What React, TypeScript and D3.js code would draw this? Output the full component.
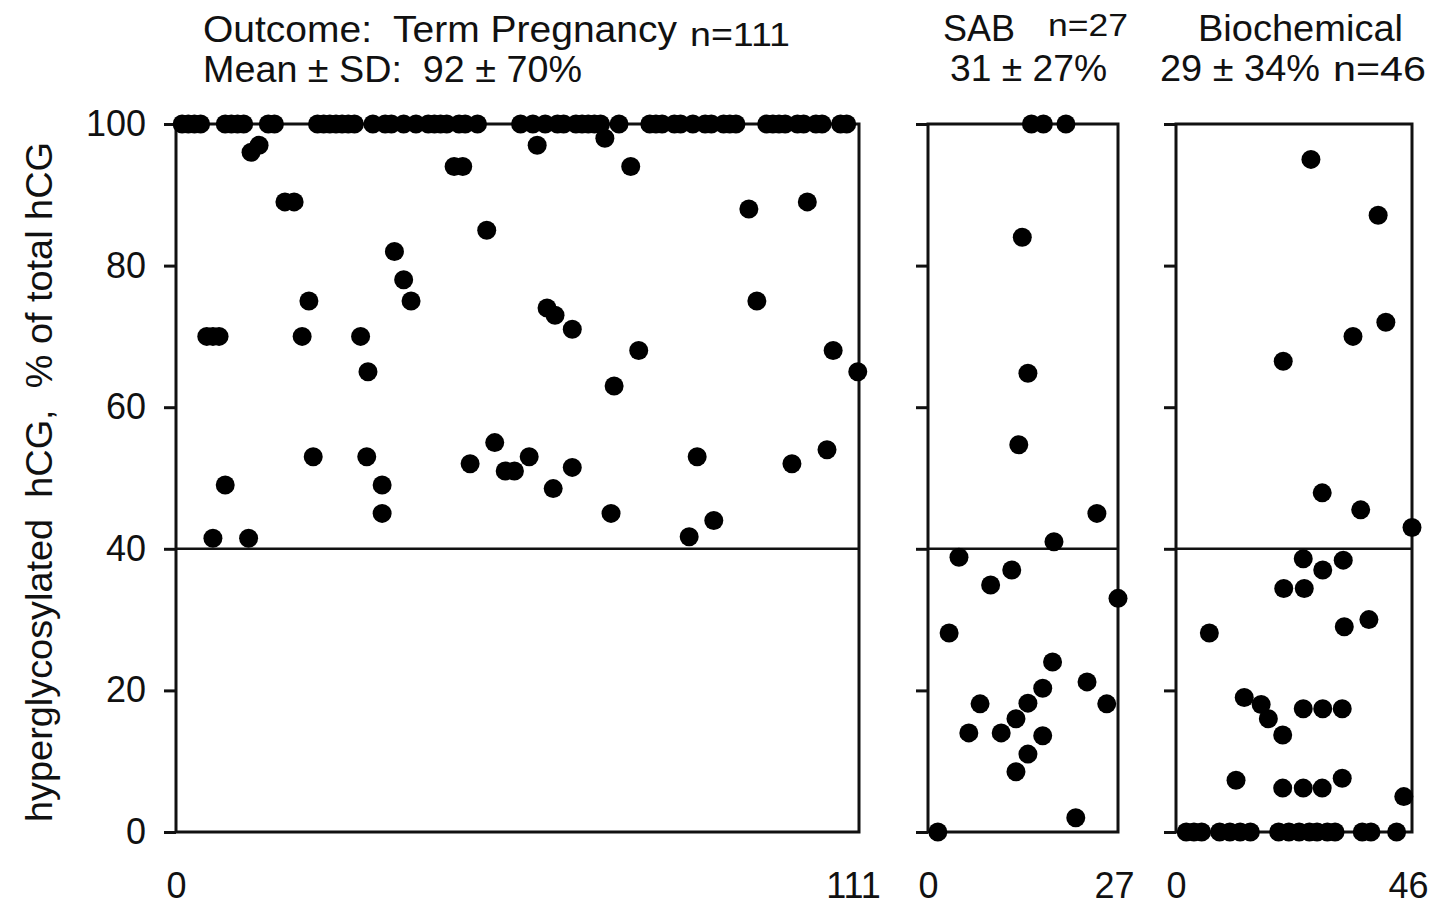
import React, { Component, createRef } from 'react';
import * as d3 from 'd3';

// [subject index, hyperglycosylated hCG as % of total hCG]
const termPregnancy: [number, number][] = [
  [1, 100], [2, 100], [3, 100], [4, 100],
  [5, 70], [6, 70], [7, 70], [6, 41.5], [8, 49],
  [8, 100], [9, 100], [10, 100], [11, 100],
  [11.8, 41.5], [12.2, 96], [13.5, 97],
  [15, 100], [16, 100],
  [17.7, 89], [19.2, 89], [20.5, 70], [21.6, 75], [22.3, 53],
  [23, 100], [24, 100], [25, 100], [26, 100], [27, 100], [28, 100], [29, 100],
  [30, 70], [31.2, 65], [31, 53], [32, 100], [33.5, 49], [33.5, 45],
  [34, 100], [35, 100], [35.5, 82], [37, 100], [37, 78], [38.2, 75],
  [39, 100], [41, 100], [42, 100], [43, 100], [44, 100],
  [45.2, 94], [46.6, 94], [46, 100], [47, 100], [47.8, 52], [49, 100],
  [50.5, 85], [51.8, 55], [53.5, 51], [55, 51],
  [56, 100], [57.4, 53], [58, 100], [58.7, 97], [60, 100], [60.3, 74],
  [61.3, 48.5], [61.6, 73], [62, 100], [63, 100], [64.4, 71], [64.4, 51.5],
  [65, 100], [66, 100], [67, 100], [68, 100], [69, 100],
  [69.7, 98], [70.7, 45], [71.2, 63], [72, 100], [73.9, 94], [75.2, 68],
  [77, 100], [78, 100], [79, 100], [81, 100], [82, 100],
  [83.4, 41.7], [84, 100], [84.7, 53], [86, 100], [87, 100], [87.4, 44],
  [89, 100], [90, 100], [91, 100],
  [93.1, 88], [94.4, 75],
  [96, 100], [97, 100], [98, 100], [99, 100], [100.1, 52],
  [101, 100], [102, 100], [102.6, 89], [104, 100], [105, 100],
  [105.8, 54], [106.8, 68], [108, 100], [109, 100], [110.8, 65],
];

const sab: [number, number][] = [
  [1.4, 0], [3, 28.1], [4.4, 38.8], [5.8, 14], [7.4, 18.1], [8.9, 34.9],
  [10.4, 14], [11.9, 37], [12.5, 16], [12.5, 8.5], [12.9, 54.7], [13.4, 84],
  [14.2, 64.8], [14.2, 18.2], [14.2, 11], [14.7, 100], [16.4, 100],
  [16.3, 20.3], [16.3, 13.6], [17.7, 24], [17.9, 41], [19.6, 100],
  [21, 2], [22.6, 21.2], [24, 45], [25.4, 18.1], [27, 33],
];

const biochemical: [number, number][] = [
  [2, 0], [3.5, 0], [5, 0], [6.5, 28.1], [8.5, 0], [10.5, 0], [11.7, 7.3],
  [12.5, 0], [13.3, 19], [14.5, 0], [16.6, 18], [18, 16],
  [20, 0], [20.8, 13.7], [20.8, 6.2], [20.9, 66.5], [21, 34.4], [22, 0],
  [24, 0], [24.8, 38.6], [24.8, 17.4], [24.8, 6.2], [25, 34.4],
  [26, 0], [26.3, 95], [27.5, 0], [28.5, 47.9], [28.6, 37], [28.6, 17.4],
  [28.5, 6.2], [29.5, 0], [31, 0], [32.4, 17.4], [32.4, 7.6], [32.6, 38.4],
  [32.8, 29], [34.5, 70], [36, 45.5], [36.3, 0], [37.6, 30], [38, 0],
  [39.4, 87.1], [40.9, 72], [43, 0], [44.4, 5], [46, 43],
];

const yTicks = [0, 20, 40, 60, 80, 100];
const cutoff = 40;
const yTitle = 'hyperglycosylated  hCG,  % of total hCG';

const headerLines = [
  'Outcome:  Term Pregnancy', 'n=111', 'Mean ± SD:  92 ± 70%',
  'SAB', 'n=27', '31 ± 27%',
  'Biochemical', '29 ± 34%', 'n=46',
];

const FONT = "'Liberation Sans', Arial, Helvetica, sans-serif";
const W = 1437;
const H = 905;

// header placement, same order as headerLines
const headerPos = [
  { x: 203, y: 42, size: 37, len: 474 },
  { x: 690, y: 46, size: 34, len: 100 },
  { x: 203, y: 82, size: 37, len: 379 },
  { x: 943, y: 41, size: 36, len: 72 },
  { x: 1048, y: 36, size: 32, len: 80 },
  { x: 950, y: 81, size: 36, len: 157 },
  { x: 1198, y: 41, size: 37, len: 205 },
  { x: 1160, y: 81, size: 36, len: 160 },
  { x: 1333, y: 81, size: 35, len: 93 },
];

const panels = [
  { data: termPregnancy, n: 111, range: [176, 859], labels: true, endShift: -6 },
  { data: sab, n: 27, range: [928, 1118], labels: false, endShift: -4 },
  { data: biochemical, n: 46, range: [1176, 1412], labels: false, endShift: -4 },
];

export default class App extends Component {
  svgRef = createRef<SVGSVGElement>();

  componentDidMount() {
    this.draw();
  }

  render() {
    return (
      <svg
        ref={this.svgRef}
        width={W}
        height={H}
        style={{ position: 'absolute', left: 0, top: 0, background: '#fff' }}
      />
    );
  }

  draw() {
    const svg = d3.select(this.svgRef.current);
    svg.selectAll('*').remove();

    const y = d3.scaleLinear().domain([0, 100]).range([832, 124]);

    panels.forEach((p) => {
      const x = d3.scaleLinear().domain([0, p.n]).range(p.range);
      const [x0, x1] = p.range;

      // frame
      svg.append('rect')
        .attr('x', x0)
        .attr('y', y(100))
        .attr('width', x1 - x0)
        .attr('height', y(0) - y(100))
        .attr('fill', 'none')
        .attr('stroke', '#111')
        .attr('stroke-width', 3);

      // y axis ticks (labels only on first panel)
      const yAxis = d3.axisLeft(y)
        .tickValues(yTicks)
        .tickSize(12)
        .tickSizeOuter(0)
        .tickPadding(18)
        .tickFormat(p.labels ? d3.format('d') : () => '');

      const gy = svg.append('g')
        .attr('transform', `translate(${x0}, 0)`)
        .call(yAxis)
        .attr('font-family', FONT)
        .attr('font-size', 36);
      gy.select('.domain').remove();
      gy.selectAll('line').attr('stroke', '#111').attr('stroke-width', 3);
      gy.selectAll('text').attr('fill', '#111');

      // cutoff line at 40%
      svg.append('line')
        .attr('x1', x0)
        .attr('x2', x1)
        .attr('y1', y(cutoff))
        .attr('y2', y(cutoff))
        .attr('stroke', '#111')
        .attr('stroke-width', 2.5);

      // x labels, 0 and n
      const xAxis = d3.axisBottom(x)
        .tickValues([0, p.n])
        .tickSize(0)
        .tickPadding(40)
        .tickFormat(d3.format('d'));

      const gx = svg.append('g')
        .attr('transform', `translate(0, ${y(0)})`)
        .call(xAxis)
        .attr('font-family', FONT)
        .attr('font-size', 36);
      gx.select('.domain').remove();
      gx.selectAll('text')
        .attr('fill', '#111')
        .attr('dx', (d: any) => (d === p.n ? p.endShift : 0));

      // subjects
      svg.append('g')
        .selectAll('circle')
        .data(p.data)
        .join('circle')
        .attr('cx', (d) => x(d[0]))
        .attr('cy', (d) => y(d[1]))
        .attr('r', 9.5)
        .attr('fill', '#000');
    });

    // headers
    svg.append('g')
      .attr('font-family', FONT)
      .attr('fill', '#111')
      .selectAll('text')
      .data(headerLines)
      .join('text')
      .attr('x', (d, i) => headerPos[i].x)
      .attr('y', (d, i) => headerPos[i].y)
      .attr('font-size', (d, i) => headerPos[i].size)
      .attr('textLength', (d, i) => headerPos[i].len)
      .attr('lengthAdjust', 'spacingAndGlyphs')
      .style('white-space', 'pre')
      .text((d) => d);

    // y title
    svg.append('text')
      .attr('transform', 'translate(52, 482) rotate(-90)')
      .attr('text-anchor', 'middle')
      .attr('font-family', FONT)
      .attr('font-size', 37)
      .attr('textLength', 680)
      .attr('lengthAdjust', 'spacingAndGlyphs')
      .attr('fill', '#111')
      .style('white-space', 'pre')
      .text(yTitle);
  }
}
